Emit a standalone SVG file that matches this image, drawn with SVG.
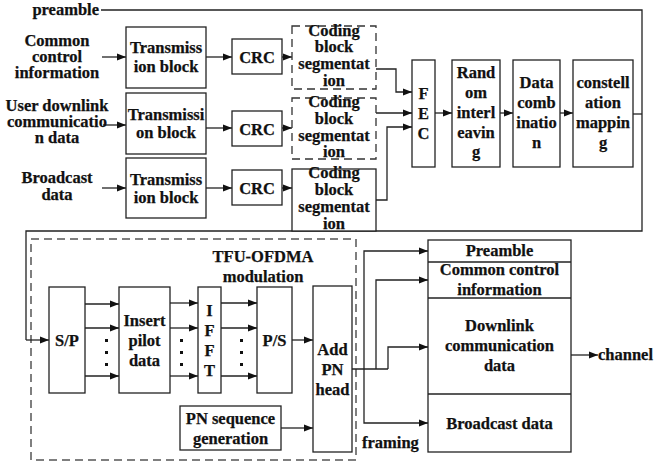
<svg xmlns="http://www.w3.org/2000/svg" width="654" height="463" viewBox="0 0 654 463">
  <defs>
    <marker id="arrow" markerUnits="userSpaceOnUse" markerWidth="10" markerHeight="8" refX="9" refY="4" orient="auto">
      <path d="M0,0.5 L9,4 L0,7.5 z" fill="#111"/>
    </marker>
    <style>
      text { font-family: "Liberation Serif", "Times New Roman", serif; font-weight: bold; font-size: 16.5px; fill: #111; stroke: #111; stroke-width: 0.25; text-anchor: middle; }
      .box { fill: #fff; stroke: #222; stroke-width: 1.3; }
      .dbox { fill: #fff; stroke: #333; stroke-width: 1.3; stroke-dasharray: 8 5; }
      .region { fill: none; stroke: #555; stroke-width: 1.5; stroke-dasharray: 8 5; }
      .wire { fill: none; stroke: #222; stroke-width: 1.3; }
      .arr { fill: none; stroke: #222; stroke-width: 1.3; marker-end: url(#arrow); }
      .dot { fill: #111; }
    </style>
  </defs>

  <rect width="654" height="463" fill="#fff"/>

  <!-- modulation region -->
  <rect id="tfu-region" class="region" x="31" y="239" width="325" height="221"/>

  <!-- connectors -->
  <g id="connectors">
    <!-- preamble feed and return path to S/P -->
    <polyline class="wire" points="101,10 642,10 642,231 26,231 26,340"/>
    <line class="arr" x1="26" y1="340" x2="49" y2="340"/>
    <line class="wire" x1="633" y1="114" x2="642" y2="114"/>

    <!-- inputs -->
    <line class="arr" x1="102" y1="57" x2="126" y2="57"/>
    <line class="arr" x1="103" y1="125" x2="126" y2="125"/>
    <line class="arr" x1="102" y1="188" x2="126" y2="188"/>

    <!-- transmission block to CRC -->
    <line class="arr" x1="206" y1="57" x2="232" y2="57"/>
    <line class="arr" x1="206" y1="128" x2="232" y2="128"/>
    <line class="arr" x1="206" y1="188" x2="232" y2="188"/>

    <!-- CRC to segmentation -->
    <line class="arr" x1="282" y1="57" x2="292" y2="57"/>
    <line class="arr" x1="282" y1="128" x2="292" y2="128"/>
    <line class="arr" x1="282" y1="188" x2="292" y2="188"/>

    <!-- segmentation to FEC -->
    <polyline class="arr" points="376,69 396,69 396,92 412,92"/>
    <line class="arr" x1="376" y1="113" x2="412" y2="113"/>
    <polyline class="arr" points="376,200 387,200 387,127 412,127"/>

    <!-- upper chain -->
    <line class="arr" x1="435" y1="113" x2="452" y2="113"/>
    <line class="arr" x1="500" y1="113" x2="513" y2="113"/>
    <line class="arr" x1="560" y1="113" x2="573" y2="113"/>

    <!-- S/P to pilot insertion -->
    <line class="arr" x1="85" y1="304" x2="119" y2="304"/>
    <line class="arr" x1="85" y1="328" x2="119" y2="328"/>
    <line class="arr" x1="85" y1="376" x2="119" y2="376"/>
    <!-- pilot insertion to IFFT -->
    <line class="arr" x1="170" y1="303" x2="198" y2="303"/>
    <line class="arr" x1="170" y1="328" x2="198" y2="328"/>
    <line class="arr" x1="170" y1="376" x2="198" y2="376"/>
    <!-- IFFT to P/S -->
    <line class="arr" x1="221" y1="303" x2="257" y2="303"/>
    <line class="arr" x1="221" y1="328" x2="257" y2="328"/>
    <line class="arr" x1="221" y1="376" x2="257" y2="376"/>
    <!-- P/S and PN sequence to PN head -->
    <line class="arr" x1="292" y1="340" x2="313" y2="340"/>
    <line class="arr" x1="281" y1="428" x2="313" y2="428"/>

    <!-- framing fan-out -->
    <line class="wire" x1="352" y1="369" x2="388" y2="369"/>
    <polyline class="arr" points="364,369 364,251 428,251"/>
    <polyline class="arr" points="364,369 364,423 428,423"/>
    <polyline class="arr" points="376,369 376,280 428,280"/>
    <polyline class="arr" points="388,369 388,347 428,347"/>

    <!-- to channel -->
    <line class="arr" x1="571" y1="355" x2="598" y2="355"/>

    <!-- parallel-branch ellipses -->
    <rect class="dot" x="105" y="339" width="3" height="3"/>
    <rect class="dot" x="105" y="351" width="3" height="3"/>
    <rect class="dot" x="105" y="363" width="3" height="3"/>
    <rect class="dot" x="180" y="339" width="3" height="3"/>
    <rect class="dot" x="180" y="351" width="3" height="3"/>
    <rect class="dot" x="180" y="363" width="3" height="3"/>
    <rect class="dot" x="240" y="339" width="3" height="3"/>
    <rect class="dot" x="240" y="351" width="3" height="3"/>
    <rect class="dot" x="240" y="363" width="3" height="3"/>
  </g>

  <!-- input labels -->
  <g id="lbl-preamble"><text x="99" y="15" style="text-anchor:end">preamble</text></g>
  <g id="lbl-common">
    <text x="57" y="46">Common</text>
    <text x="57" y="62">control</text>
    <text x="57" y="78">information</text>
  </g>
  <g id="lbl-user">
    <text x="57" y="111">User downlink</text>
    <text x="57" y="127">communicatio</text>
    <text x="57" y="143">n data</text>
  </g>
  <g id="lbl-broadcast">
    <text x="57" y="183">Broadcast</text>
    <text x="57" y="200">data</text>
  </g>

  <!-- transmission blocks -->
  <g id="tb1">
    <rect class="box" x="126" y="27" width="80" height="61"/>
    <text x="166" y="53">Transmiss</text>
    <text x="166" y="71.5">ion block</text>
  </g>
  <g id="tb2">
    <rect class="box" x="126" y="93" width="80" height="61"/>
    <text x="166" y="120">Transmissi</text>
    <text x="166" y="138">on block</text>
  </g>
  <g id="tb3">
    <rect class="box" x="126" y="158" width="80" height="60"/>
    <text x="166" y="185">Transmiss</text>
    <text x="166" y="203">ion block</text>
  </g>

  <!-- CRC -->
  <g id="crc1"><rect class="box" x="232" y="39" width="50" height="35"/><text x="257" y="62.5">CRC</text></g>
  <g id="crc2"><rect class="box" x="232" y="111" width="50" height="35"/><text x="257" y="134.5">CRC</text></g>
  <g id="crc3"><rect class="box" x="232" y="170" width="50" height="35"/><text x="257" y="193.5">CRC</text></g>

  <!-- code block segmentation -->
  <g id="seg1">
    <rect class="dbox" x="292" y="26" width="84" height="63"/>
    <text x="334" y="36">Coding</text>
    <text x="334" y="52">block</text>
    <text x="334" y="69">segmentat</text>
    <text x="334" y="86">ion</text>
  </g>
  <g id="seg2">
    <rect class="dbox" x="292" y="98" width="84" height="61"/>
    <text x="334" y="107">Coding</text>
    <text x="334" y="124">block</text>
    <text x="334" y="141">segmentat</text>
    <text x="334" y="157">ion</text>
  </g>
  <g id="seg3">
    <rect class="box" x="292" y="169" width="84" height="62"/>
    <text x="334" y="178">Coding</text>
    <text x="334" y="195">block</text>
    <text x="334" y="212">segmentat</text>
    <text x="334" y="229">ion</text>
  </g>

  <!-- FEC -->
  <g id="fec">
    <rect class="box" x="412" y="60" width="23" height="107"/>
    <text x="423.5" y="99">F</text>
    <text x="423.5" y="119">E</text>
    <text x="423.5" y="139">C</text>
  </g>
  <g id="interleave">
    <rect class="box" x="452" y="60" width="48" height="107"/>
    <text x="476" y="78">Rand</text>
    <text x="476" y="98">om</text>
    <text x="476" y="118">interl</text>
    <text x="476" y="138">eavin</text>
    <text x="476" y="157">g</text>
  </g>
  <g id="combine">
    <rect class="box" x="513" y="60" width="47" height="107"/>
    <text x="536.5" y="88">Data</text>
    <text x="536.5" y="108">comb</text>
    <text x="536.5" y="128">inatio</text>
    <text x="536.5" y="148">n</text>
  </g>
  <g id="mapping">
    <rect class="box" x="573" y="60" width="60" height="107"/>
    <text x="603" y="88">constell</text>
    <text x="603" y="108">ation</text>
    <text x="603" y="128">mappin</text>
    <text x="603" y="148">g</text>
  </g>

  <!-- TFU-OFDMA modulation -->
  <g id="tfu-title">
    <text x="263" y="262">TFU-OFDMA</text>
    <text x="263" y="282">modulation</text>
  </g>
  <g id="sp"><rect class="box" x="49" y="287" width="36" height="106"/><text x="67" y="346">S/P</text></g>
  <g id="pilot">
    <rect class="box" x="119" y="287" width="51" height="106"/>
    <text x="144.5" y="326">Insert</text>
    <text x="144.5" y="346">pilot</text>
    <text x="144.5" y="366">data</text>
  </g>
  <g id="ifft">
    <rect class="box" x="198" y="287" width="23" height="106"/>
    <text x="209.5" y="316">I</text>
    <text x="209.5" y="336">F</text>
    <text x="209.5" y="356">F</text>
    <text x="209.5" y="376">T</text>
  </g>
  <g id="ps"><rect class="box" x="257" y="287" width="35" height="106"/><text x="274.5" y="346">P/S</text></g>
  <g id="pnhead">
    <rect class="box" x="313" y="286" width="39" height="166"/>
    <text x="332.5" y="355">Add</text>
    <text x="332.5" y="375">PN</text>
    <text x="332.5" y="395">head</text>
  </g>
  <g id="pnseq">
    <rect class="box" x="180" y="406" width="101" height="44"/>
    <text x="230.5" y="424">PN sequence</text>
    <text x="230.5" y="444">generation</text>
  </g>

  <!-- frame structure -->
  <g id="frame">
    <rect class="box" x="428" y="240" width="143" height="212"/>
    <line class="wire" x1="428" y1="262" x2="571" y2="262"/>
    <line class="wire" x1="428" y1="298" x2="571" y2="298"/>
    <line class="wire" x1="428" y1="394" x2="571" y2="394"/>
    <text x="499.5" y="256">Preamble</text>
    <text x="499.5" y="275">Common control</text>
    <text x="499.5" y="295">information</text>
    <text x="499.5" y="331">Downlink</text>
    <text x="499.5" y="351">communication</text>
    <text x="499.5" y="371">data</text>
    <text x="499.5" y="429">Broadcast data</text>
  </g>
  <g id="lbl-framing"><text x="362" y="448" style="text-anchor:start">framing</text></g>
  <g id="lbl-channel"><text x="598" y="360" style="text-anchor:start">channel</text></g>
</svg>
